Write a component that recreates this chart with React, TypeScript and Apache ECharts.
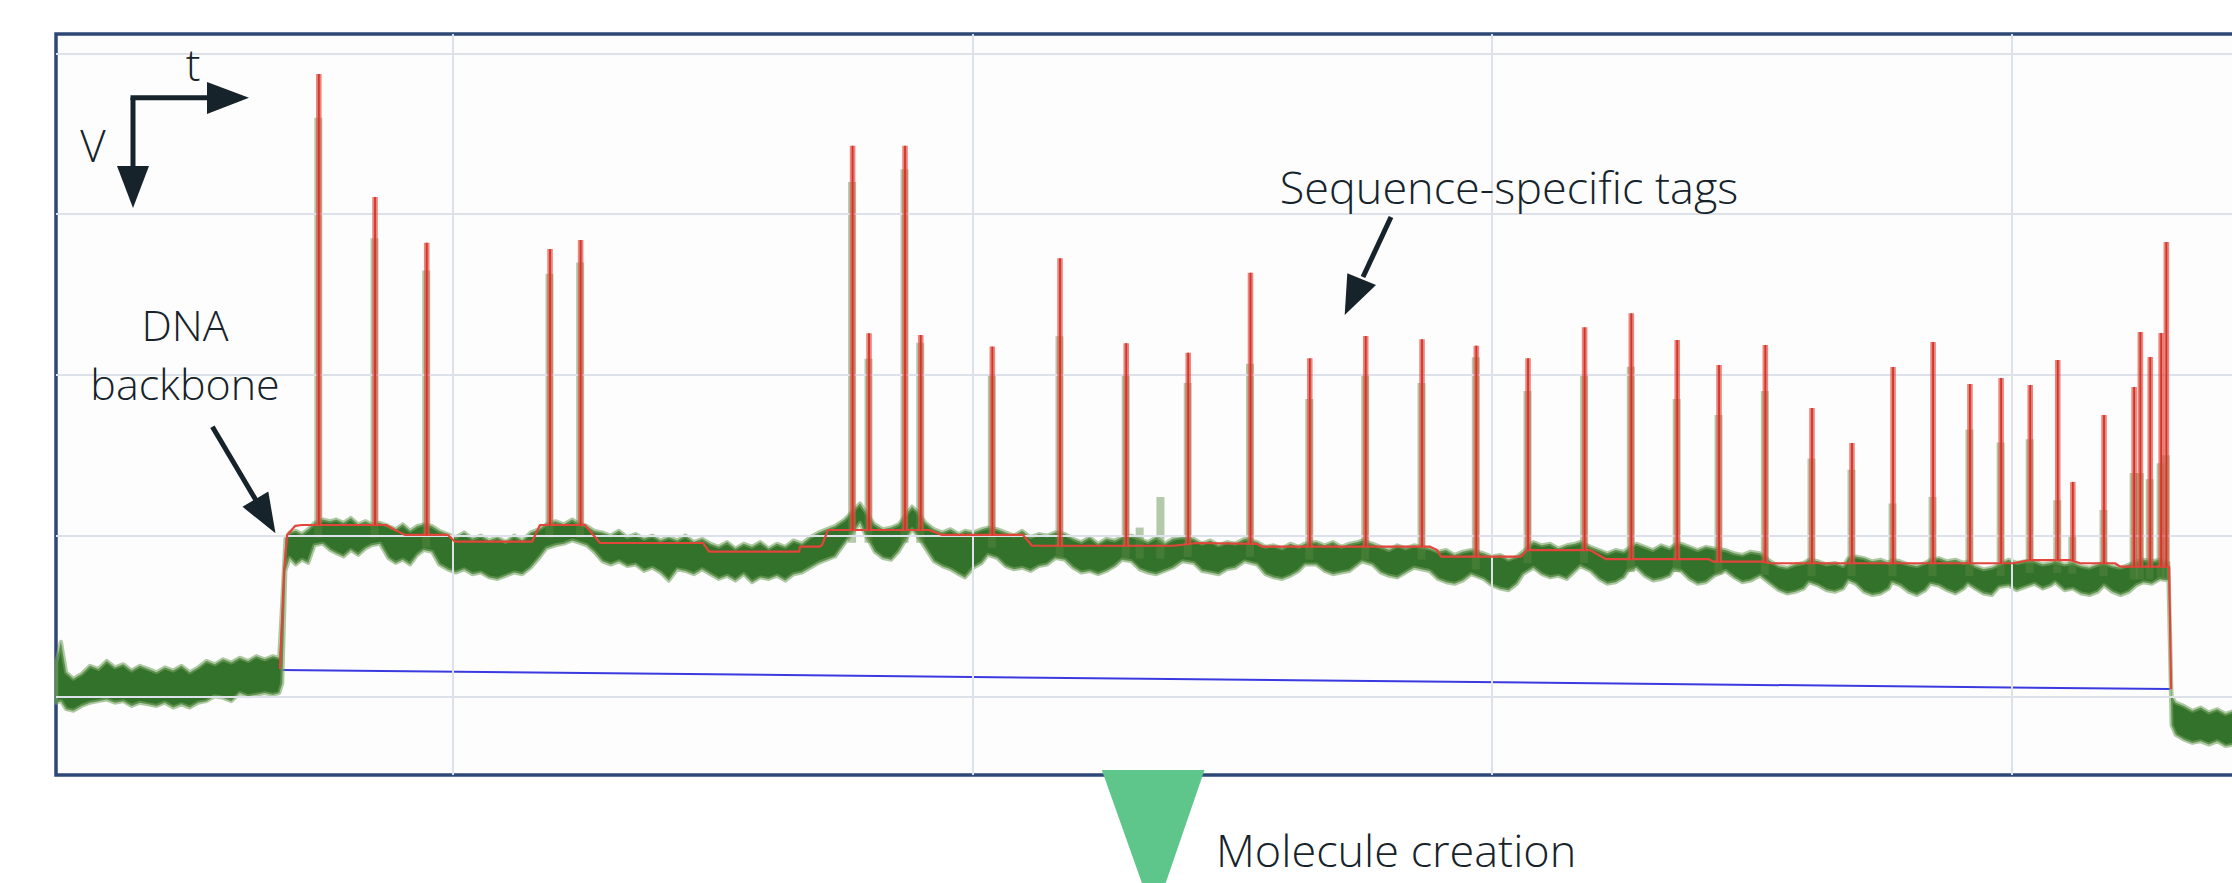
import React, { useEffect, useRef } from "react";
import * as echarts from "echarts";

// ---- axes (time in ms, level in arbitrary units, level axis points down like "V") ----
const TIME_GRIDLINES = [100, 200, 300, 400];
const LEVEL_GRIDLINES = [0, 100, 200, 300, 400];
const T_MIN = 23.65;
const T_MAX = 453.98;
const V_MIN = -12.13;
const V_MAX = 448.97;

// ---- blue baseline fit (open-pore level drift) ----
const baselineFit = [
  [66.76, 383.6],
  [430.5, 395.5],
];

// ---- red step fit (event levels) ----
const levelTimes = [66.76, 67.55, 68.13, 69.67, 71.02, 87.18, 88.92, 90.84, 99.1, 100.44, 115.26, 116.8, 125.46, 128.35, 148.17, 149.33, 166.65, 166.84, 170.69, 171.08, 172.23, 191.67, 194.17, 209.76, 211.49, 238.82, 243.25, 254.8, 255.76, 288.1, 289.44, 290.21, 305.6, 306.76, 318.88, 321.96, 341.8, 342.56, 352.18, 353.53, 400.3, 403.57, 411.27, 413.2, 419.93, 420.9, 430.33, 430.71];
const levelValues = [383.0, 321.4, 299.6, 294.0, 293.4, 293.4, 296.5, 299.6, 299.6, 303.8, 303.8, 293.4, 293.4, 304.6, 304.6, 310.0, 310.0, 306.9, 306.9, 305.8, 296.5, 296.5, 299.6, 299.6, 306.3, 306.3, 304.6, 305.2, 306.9, 306.9, 309.0, 313.1, 313.1, 309.0, 309.0, 314.7, 314.7, 316.2, 316.2, 317.2, 317.2, 315.2, 315.2, 317.2, 317.2, 319.3, 319.3, 395.5];

// ---- sequence-specific tags: time, fitted peak, raw-signal peak ----
const tagTimes = [74.23, 85.05, 95.0, 118.73, 124.62, 176.96, 180.12, 187.05, 190.07, 203.85, 216.88, 229.62, 241.55, 253.54, 264.95, 275.71, 286.55, 297.0, 306.95, 317.84, 326.83, 335.66, 343.71, 352.62, 361.6, 369.3, 377.2, 384.9, 392.0, 398.0, 403.6, 408.9, 411.8, 417.8, 423.6, 424.8, 426.7, 428.8, 429.8];
const tagPeaks = [12.8, 89.3, 117.7, 121.7, 116.1, 57.4, 174.1, 57.4, 175.2, 182.4, 127.4, 180.3, 186.2, 136.4, 189.7, 175.8, 177.8, 181.8, 189.7, 170.4, 161.7, 178.3, 193.8, 181.4, 220.6, 242.4, 195.1, 179.5, 205.7, 201.9, 206.3, 190.7, 266.6, 224.9, 207.5, 173.3, 188.9, 173.9, 117.3];
const tagRawPeaks = [40, 115, 135, 137, 130, 80, 190, 72, 180, 200, 176, 200, 205, 193, 215, 200, 205, 189, 210, 200, 195, 215, 225, 210, 252, 259, 280, 276, 234, 242, 240, 278, 300, 284, 261, 261, 265, 255, 250];
const rawBlips = [
  [232.3, 295],
  [236.3, 276],
];

// ---- raw (green) signal envelope: time, upper edge, lower edge ----
const noiseBand = [
  [23.7, 379, 404], [24.6, 366, 403], [25.6, 385, 408], [27.0, 389, 409], [28.6, 386, 406],
  [30.2, 381, 404], [31.8, 383, 403], [33.4, 378, 402], [35.0, 382, 404], [36.6, 380, 403],
  [38.2, 384, 406], [39.8, 381, 404], [41.4, 383, 405], [43.0, 385, 406], [44.6, 382, 404],
  [46.2, 384, 407], [47.8, 381, 405], [49.4, 385, 407], [51.0, 382, 404], [52.6, 378, 403],
  [54.2, 380, 400], [55.8, 377, 401], [57.4, 379, 403], [59.0, 376, 398], [60.6, 378, 400],
  [62.2, 375, 399], [63.8, 377, 398], [65.4, 375, 399], [66.6, 376, 398], [67.2, 340, 392],
  [67.8, 302, 322], [68.6, 298, 314], [69.8, 297, 318], [71.0, 299, 315], [72.2, 296, 317],
  [73.4, 292, 306], [75.0, 290, 305], [76.4, 291, 309], [77.6, 290, 311], [79.0, 292, 313],
  [80.4, 289, 309], [81.8, 293, 312], [83.2, 291, 308], [84.4, 293, 306], [86.0, 292, 305],
  [87.6, 294, 314], [89.0, 296, 317], [90.4, 293, 315], [91.8, 297, 318], [93.2, 294, 312],
  [94.4, 293, 309], [96.0, 294, 310], [97.4, 297, 318], [99.0, 299, 321], [100.6, 301, 323],
  [102.2, 298, 321], [103.8, 302, 324], [105.4, 300, 323], [107.0, 303, 326], [108.6, 301, 327],
  [110.2, 304, 325], [111.8, 300, 323], [113.4, 303, 324], [115.0, 298, 320], [116.6, 296, 314],
  [118.0, 293, 308], [119.8, 291, 306], [121.4, 293, 305], [123.0, 290, 303], [124.0, 292, 304],
  [125.8, 294, 306], [127.2, 297, 310], [128.8, 298, 316], [130.4, 300, 318], [132.0, 297, 316],
  [133.6, 301, 319], [135.2, 299, 318], [136.8, 302, 322], [138.4, 300, 320], [140.0, 303, 323],
  [141.6, 301, 328], [143.2, 303, 321], [144.8, 300, 322], [146.4, 304, 324], [148.0, 302, 321],
  [149.6, 305, 324], [151.2, 307, 327], [152.8, 304, 325], [154.4, 308, 328], [156.0, 305, 324],
  [157.6, 307, 329], [159.2, 304, 326], [160.8, 308, 327], [162.4, 305, 325], [164.0, 307, 328],
  [165.6, 303, 324], [167.2, 305, 323], [168.8, 301, 320], [170.4, 298, 317], [172.0, 296, 315],
  [173.6, 294, 313], [175.4, 290, 305], [178.4, 280, 292], [179.2, 284, 298], [181.2, 293, 310],
  [182.8, 296, 314], [184.4, 295, 315], [185.8, 293, 310], [188.4, 282, 296], [189.4, 285, 300],
  [191.0, 292, 308], [192.6, 296, 316], [194.2, 298, 319], [195.8, 296, 321], [197.4, 299, 324],
  [198.6, 297, 326], [200.2, 298, 320], [201.8, 296, 317], [203.0, 295, 312], [204.8, 296, 314],
  [206.4, 298, 319], [208.0, 300, 321], [209.6, 297, 320], [211.2, 301, 322], [212.8, 299, 319],
  [214.4, 300, 318], [216.0, 298, 314], [217.8, 299, 315], [219.4, 302, 320], [221.0, 304, 323],
  [222.6, 301, 322], [224.2, 305, 324], [225.8, 302, 322], [227.4, 303, 319], [228.8, 301, 315],
  [230.6, 300, 316], [232.2, 302, 321], [233.8, 304, 323], [235.4, 301, 324], [237.0, 305, 322],
  [238.6, 302, 320], [240.4, 301, 316], [242.6, 302, 317], [244.2, 305, 322], [245.8, 303, 323],
  [247.4, 306, 324], [249.0, 304, 321], [250.6, 305, 320], [252.4, 302, 316], [254.8, 304, 318],
  [256.4, 307, 324], [258.0, 306, 326], [259.6, 308, 327], [261.2, 305, 325], [262.8, 307, 322],
  [264.0, 305, 318], [266.2, 304, 318], [267.8, 306, 322], [269.4, 304, 324], [271.0, 307, 323],
  [272.6, 305, 322], [274.2, 304, 318], [275.0, 303, 316], [277.0, 305, 318], [278.6, 307, 323],
  [280.2, 309, 325], [281.8, 306, 326], [283.4, 308, 323], [285.0, 306, 320], [288.0, 308, 322],
  [289.6, 310, 327], [291.2, 309, 329], [292.8, 312, 330], [294.4, 310, 328], [296.0, 309, 324],
  [298.4, 311, 327], [300.0, 313, 331], [301.6, 312, 333], [303.2, 315, 334], [304.8, 313, 330],
  [306.0, 310, 324], [308.0, 304, 320], [309.6, 306, 324], [311.2, 305, 326], [312.8, 308, 325],
  [314.4, 306, 327], [316.0, 305, 322], [317.0, 304, 319], [319.0, 307, 322], [320.6, 309, 327],
  [322.2, 311, 330], [323.8, 309, 329], [325.4, 310, 326], [326.2, 308, 322], [327.8, 305, 320],
  [329.4, 307, 325], [331.0, 309, 328], [332.6, 306, 327], [334.2, 308, 325], [335.0, 306, 321],
  [336.4, 305, 322], [338.0, 307, 327], [339.6, 309, 330], [341.2, 307, 329], [342.8, 308, 325],
  [345.0, 309, 322], [346.6, 311, 326], [348.2, 312, 329], [349.8, 310, 328], [351.6, 311, 325],
  [353.6, 316, 330], [355.2, 319, 334], [356.8, 320, 336], [358.4, 318, 335], [360.0, 317, 333],
  [361.0, 315, 329], [362.8, 316, 331], [364.4, 318, 334], [366.0, 317, 335], [367.6, 319, 333],
  [368.6, 314, 328], [370.0, 313, 330], [371.6, 314, 335], [373.2, 316, 337], [374.8, 315, 336],
  [376.4, 317, 333], [377.0, 315, 329], [378.6, 316, 331], [380.2, 318, 335], [381.8, 319, 337],
  [383.4, 317, 334], [384.4, 315, 330], [386.0, 314, 331], [387.6, 316, 334], [389.2, 315, 336],
  [390.8, 317, 333], [391.6, 316, 330], [393.0, 319, 333], [394.6, 321, 336], [396.2, 320, 337],
  [397.6, 318, 332], [399.4, 315, 331], [401.0, 317, 334], [402.6, 316, 332], [404.4, 316, 330],
  [406.0, 318, 333], [407.6, 317, 331], [408.4, 316, 329], [410.2, 318, 334], [411.8, 317, 333],
  [413.4, 319, 336], [415.0, 320, 337], [416.6, 318, 335], [417.8, 317, 331], [419.4, 319, 335],
  [421.0, 320, 337], [422.6, 318, 335], [424.0, 316, 331], [425.4, 315, 329], [427.0, 316, 330],
  [428.6, 315, 327], [430.2, 317, 328], [430.8, 400, 418], [431.6, 404, 424], [433.2, 406, 427],
  [434.8, 409, 429], [436.4, 407, 428], [438.0, 410, 430], [439.6, 408, 428], [441.2, 411, 431],
  [442.8, 409, 430], [444.4, 412, 431], [446.0, 410, 429], [448.0, 412, 432], [450.0, 411, 430],
  [452.0, 413, 432], [454.0, 412, 431],
];

const FONT = "'Open Sans', Lato, sans-serif";
const INK = "#16232a";

function levelAt(t: number): number {
  for (let i = 0; i < levelTimes.length - 1; i++) {
    const a = levelTimes[i];
    const b = levelTimes[i + 1];
    if (t >= a && t <= b) {
      const f = b === a ? 0 : (t - a) / (b - a);
      return levelValues[i] + f * (levelValues[i + 1] - levelValues[i]);
    }
  }
  return levelValues[levelValues.length - 1];
}

function text(str: string, x: number, y: number, size: number, align = "center") {
  return {
    type: "text",
    x,
    y,
    z: 100,
    style: {
      text: str,
      fill: INK,
      font: `300 ${size}px ${FONT}`,
      fontSize: size,
      fontWeight: 300,
      fontFamily: FONT,
      align,
      textAlign: align,
      verticalAlign: "middle",
      textVerticalAlign: "middle",
    },
  };
}

function arrowLine(x1: number, y1: number, x2: number, y2: number) {
  return {
    type: "line",
    z: 100,
    shape: { x1, y1, x2, y2 },
    style: { stroke: INK, lineWidth: 5 },
  };
}

function arrowHead(points: number[][]) {
  return {
    type: "polygon",
    z: 100,
    shape: { points },
    style: { fill: INK },
  };
}

export default function App() {
  const ref = useRef<HTMLDivElement>(null);

  useEffect(() => {
    if (!ref.current) return;
    document.body.style.overflow = "hidden";
    const chart = echarts.init(ref.current, undefined, { renderer: "svg" });

    const option: any = {
      animation: false,
      backgroundColor: "#ffffff",
      grid: {
        left: 56,
        top: 34,
        right: 8,
        bottom: 108,
        show: true,
        borderColor: "#2d4876",
        borderWidth: 3.5,
        backgroundColor: "#fdfdfe",
      },
      xAxis: { type: "value", min: T_MIN, max: T_MAX, show: false },
      yAxis: { type: "value", inverse: true, min: V_MIN, max: V_MAX, show: false },
      series: [
        {
          name: "grid",
          type: "line",
          data: [],
          z: 1,
          silent: true,
          markLine: {
            silent: true,
            symbol: ["none", "none"],
            label: { show: false },
            emphasis: { disabled: true },
            lineStyle: { color: "#dde1ea", width: 2, type: "solid" },
            data: [
              ...TIME_GRIDLINES.map((v) => ({ xAxis: v })),
              ...LEVEL_GRIDLINES.map((v) => ({ yAxis: v })),
            ],
          },
        },
        {
          name: "baseline",
          type: "line",
          z: 2,
          data: baselineFit,
          symbol: "none",
          silent: true,
          lineStyle: { color: "#3a3ae0", width: 2 },
        },
        {
          name: "raw",
          type: "custom",
          z: 3,
          silent: true,
          data: [[T_MIN, 0]],
          renderItem: (_p: any, api: any) => {
            const top = noiseBand.map((d) => api.coord([d[0], d[1]]));
            const bottom = noiseBand.map((d) => api.coord([d[0], d[2]])).reverse();
            return {
              type: "polygon",
              shape: { points: top.concat(bottom) },
              style: {
                fill: "#33722a",
                stroke: "rgba(120,165,100,0.6)",
                lineWidth: 4,
                lineJoin: "round",
              },
            };
          },
        },
        {
          name: "rawTags",
          type: "custom",
          z: 4,
          silent: true,
          data: [
            ...tagTimes.map((t, i) => [t, tagRawPeaks[i]]),
            ...rawBlips,
          ],
          renderItem: (_p: any, api: any) => {
            const t = api.value(0);
            const peak = api.value(1);
            const base = levelAt(t) + 8;
            const a = api.coord([t, peak]);
            const b = api.coord([t, base]);
            return {
              type: "rect",
              shape: { x: a[0] - 4.5, y: a[1], width: 8, height: b[1] - a[1] },
              style: { fill: "rgba(92,138,66,0.45)" },
            };
          },
        },
        {
          name: "levels",
          type: "line",
          z: 5,
          silent: true,
          symbol: "none",
          data: levelTimes.map((t, i) => [t, levelValues[i]]),
          lineStyle: { color: "#e2453a", width: 2.2 },
        },
        {
          name: "tags",
          type: "custom",
          z: 6,
          silent: true,
          data: tagTimes.map((t, i) => [t, tagPeaks[i]]),
          renderItem: (_p: any, api: any) => {
            const t = api.value(0);
            const peak = api.value(1);
            const base = levelAt(t);
            const a = api.coord([t, peak]);
            const b = api.coord([t, base]);
            return {
              type: "group",
              children: [
                {
                  type: "rect",
                  shape: { x: a[0] - 2.8, y: a[1], width: 5.6, height: b[1] - a[1] },
                  style: { fill: "rgba(228,82,70,0.7)" },
                },
                {
                  type: "line",
                  shape: { x1: a[0], y1: a[1], x2: b[0], y2: b[1] },
                  style: { stroke: "#d2342a", lineWidth: 1.8 },
                },
              ],
            };
          },
        },
      ],
      graphic: [
        // axis orientation glyph
        arrowLine(133, 97.7, 133, 172),
        arrowHead([[117, 166], [149, 166], [133, 208]]),
        arrowLine(130.5, 97.7, 212, 97.7),
        arrowHead([[207, 82], [207, 114], [249, 97.7]]),
        text("t", 193, 64, 44),
        text("V", 93, 145, 44),
        // DNA backbone
        text("DNA", 185, 324, 43),
        text("backbone", 185, 383, 43),
        arrowLine(212.4, 426.7, 257, 502),
        arrowHead([[242.5, 506.8], [268.3, 491.6], [275.5, 533.3]]),
        // tags
        text("Sequence-specific tags", 1509, 186, 45),
        arrowLine(1391, 217, 1363, 277),
        arrowHead([[1347.3, 273.3], [1376, 285], [1344.7, 315]]),
        // molecule creation marker
        {
          type: "polygon",
          z: 100,
          shape: { points: [[1101.8, 770], [1204.5, 770], [1154, 917]] },
          style: { fill: "#5ec68a" },
        },
        text("Molecule creation", 1216, 849, 45, "left"),
      ],
    };

    chart.setOption(option);
    return () => chart.dispose();
  }, []);

  return (
    <div
      ref={ref}
      style={{ position: "fixed", left: 0, top: 0, width: 2300, height: 883 }}
    />
  );
}
